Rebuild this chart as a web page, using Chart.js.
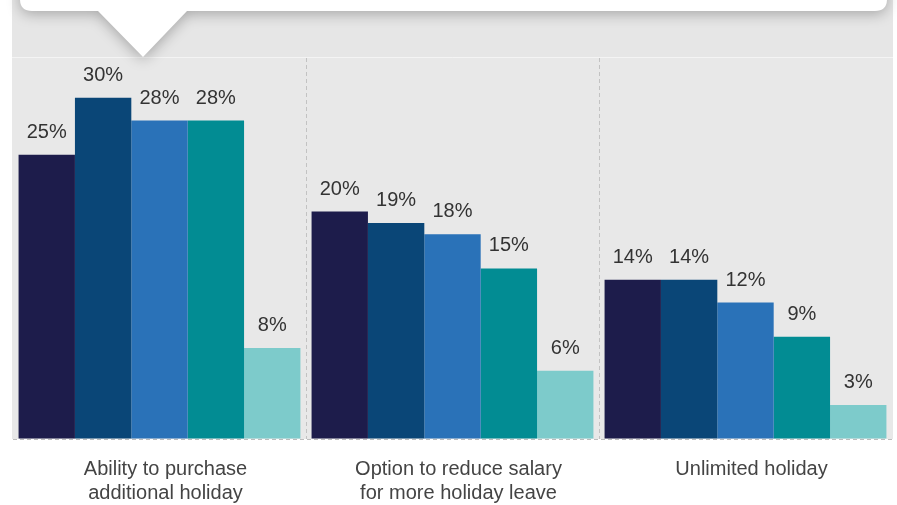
<!DOCTYPE html>
<html>
<head>
<meta charset="utf-8">
<script src="https://cdn.jsdelivr.net/npm/chart.js@4"></script>
<style>
  html, body { margin: 0; padding: 0; background: #ffffff; }
  #wrap { width: 897px; height: 505px; }
</style>
</head>
<body>
<div id="wrap"><canvas id="chart" width="897" height="505"></canvas></div>
<script>
// Holiday benefit options, share of respondents (%)
const categories = [
  ["Ability to purchase", "additional holiday"],
  ["Option to reduce salary", "for more holiday leave"],
  "Unlimited holiday"
];
const seriesNames = ["Group 1", "Group 2", "Group 3", "Group 4", "Group 5"];
const group1 = [25, 20, 14];
const group2 = [30, 19, 14];
const group3 = [28, 18, 12];
const group4 = [28, 15, 9];
const group5 = [8, 6, 3];
const seriesColors = ["#1d1c4b", "#0a4677", "#2a72b8", "#028c93", "#7dcbcb"];

const FONT = "'Liberation Sans', Arial, Helvetica, sans-serif";

// Grey panel behind the plot plus the white speech-bubble box along the top
const panelPlugin = {
  id: 'panel',
  beforeDraw(chart) {
    const ctx = chart.ctx;
    const area = chart.chartArea;
    ctx.save();
    ctx.fillStyle = '#e6e6e6';
    ctx.fillRect(12, 0, 881, area.top);
    ctx.fillStyle = '#e8e8e8';
    ctx.fillRect(12, area.top, 881, area.bottom - area.top);
    ctx.strokeStyle = 'rgba(255,255,255,0.55)';
    ctx.lineWidth = 1;
    ctx.beginPath();
    ctx.moveTo(12, area.top - 0.5);
    ctx.lineTo(893, area.top - 0.5);
    ctx.stroke();

    // bubble with pointer
    const l = 20, r = 887, b = 11, rad = 12;
    ctx.shadowColor = 'rgba(0,0,0,0.28)';
    ctx.shadowBlur = 14;
    ctx.shadowOffsetY = 3;
    ctx.fillStyle = '#ffffff';
    ctx.beginPath();
    ctx.moveTo(l, -30);
    ctx.lineTo(r, -30);
    ctx.lineTo(r, b - rad);
    ctx.quadraticCurveTo(r, b, r - rad, b);
    ctx.lineTo(187, b);
    ctx.lineTo(143, 57);
    ctx.lineTo(98, b);
    ctx.lineTo(l + rad, b);
    ctx.quadraticCurveTo(l, b, l, b - rad);
    ctx.closePath();
    ctx.fill();
    ctx.restore();
  }
};

// Percentage labels above each bar
const valueLabels = {
  id: 'valueLabels',
  afterDatasetsDraw(chart) {
    const ctx = chart.ctx;
    ctx.save();
    ctx.font = '20px ' + FONT;
    ctx.fillStyle = '#333333';
    ctx.textAlign = 'center';
    ctx.textBaseline = 'alphabetic';
    chart.data.datasets.forEach((ds, i) => {
      chart.getDatasetMeta(i).data.forEach((bar, j) => {
        ctx.fillText(ds.data[j] + '%', bar.x, bar.y - 17);
      });
    });
    ctx.restore();
  }
};

const seriesData = [group1, group2, group3, group4, group5];

new Chart(document.getElementById('chart'), {
  type: 'bar',
  data: {
    labels: categories,
    datasets: seriesNames.map((name, i) => ({
      label: name,
      data: seriesData[i],
      backgroundColor: seriesColors[i],
      borderWidth: 0,
      categoryPercentage: 0.962,
      barPercentage: 1.0
    }))
  },
  options: {
    responsive: false,
    animation: false,
    layout: { padding: { top: 58, left: 13, right: 5, bottom: 0 } },
    plugins: {
      legend: { display: false },
      tooltip: { enabled: false }
    },
    scales: {
      x: {
        afterFit(scale) { scale.height = 66; },
        border: { display: false, dash: [4, 3] },
        grid: {
          offset: true,
          drawTicks: false,
          color: (c) => (c.index === 1 || c.index === 2) ? '#c2c2c2' : 'rgba(0,0,0,0)',
          lineWidth: 1
        },
        ticks: {
          padding: 18,
          labelOffset: 6,
          color: '#444444',
          font: { family: FONT, size: 20, lineHeight: 1.2 },
          maxRotation: 0,
          autoSkip: false
        }
      },
      y: {
        min: 0,
        max: 33.5,
        afterFit(scale) { scale.width = 0; },
        border: { display: false, dash: [4, 3] },
        grid: {
          drawTicks: false,
          color: (c) => (c.tick && c.tick.value === 0) ? '#bdbdbd' : 'rgba(0,0,0,0)',
          lineWidth: 1
        },
        ticks: { display: false }
      }
    }
  },
  plugins: [panelPlugin, valueLabels]
});
</script>
</body>
</html>
